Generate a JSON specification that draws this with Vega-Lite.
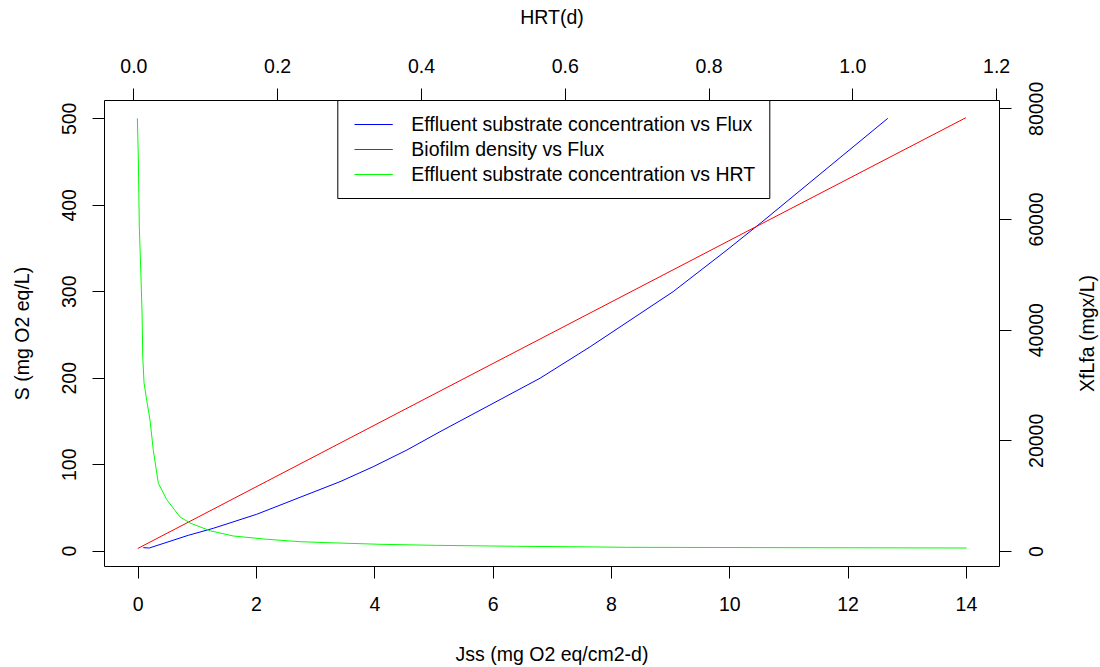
{
  "$schema": "https://vega.github.io/schema/vega-lite/v6.json",
  "width": 895,
  "height": 466,
  "autosize": {"type": "none"},
  "padding": {"left": 104, "top": 100, "right": 101, "bottom": 101},
  "background": "white",
  "config": {
    "font": "Liberation Sans",
    "view": {"stroke": "black", "strokeWidth": 1},
    "axis": {
      "grid": false,
      "domain": false,
      "tickColor": "black",
      "tickSize": 12,
      "tickWidth": 1,
      "labelColor": "black",
      "labelFontSize": 19.5,
      "labelFont": "Liberation Sans",
      "titleFont": "Liberation Sans",
      "titleFontSize": 19.5,
      "titleFontWeight": "normal",
      "titleColor": "black",
      "labelFlush": false,
      "labelOverlap": false
    },
    "legend": {
      "labelFont": "Liberation Sans"
    }
  },
  "datasets": {
    "fluxS": [
      {"series": "Effluent substrate concentration vs Flux", "Jss": 0.095, "S": 3.5},
      {"series": "Effluent substrate concentration vs Flux", "Jss": 0.196, "S": 3.1},
      {"series": "Effluent substrate concentration vs Flux", "Jss": 0.855, "S": 17.8},
      {"series": "Effluent substrate concentration vs Flux", "Jss": 1.278, "S": 25.9},
      {"series": "Effluent substrate concentration vs Flux", "Jss": 2.011, "S": 42.1},
      {"series": "Effluent substrate concentration vs Flux", "Jss": 2.743, "S": 61.7},
      {"series": "Effluent substrate concentration vs Flux", "Jss": 3.42, "S": 79.8},
      {"series": "Effluent substrate concentration vs Flux", "Jss": 3.98, "S": 97.1},
      {"series": "Effluent substrate concentration vs Flux", "Jss": 4.55, "S": 116.4},
      {"series": "Effluent substrate concentration vs Flux", "Jss": 5.11, "S": 137.6},
      {"series": "Effluent substrate concentration vs Flux", "Jss": 6.8, "S": 199.4},
      {"series": "Effluent substrate concentration vs Flux", "Jss": 7.65, "S": 235.9},
      {"series": "Effluent substrate concentration vs Flux", "Jss": 9.05, "S": 299.5},
      {"series": "Effluent substrate concentration vs Flux", "Jss": 9.96, "S": 347.7},
      {"series": "Effluent substrate concentration vs Flux", "Jss": 10.55, "S": 380},
      {"series": "Effluent substrate concentration vs Flux", "Jss": 12.68, "S": 500}
    ],
    "fluxX": [
      {"series": "Biofilm density vs Flux", "Jss": 0, "XfLfa": 450},
      {"series": "Biofilm density vs Flux", "Jss": 5.11, "XfLfa": 28900},
      {"series": "Biofilm density vs Flux", "Jss": 10.55, "XfLfa": 59150},
      {"series": "Biofilm density vs Flux", "Jss": 14, "XfLfa": 78300}
    ],
    "hrtS": [
      {"series": "Effluent substrate concentration vs HRT", "HRT": 0.0056, "S": 500},
      {"series": "Effluent substrate concentration vs HRT", "HRT": 0.007, "S": 452},
      {"series": "Effluent substrate concentration vs HRT", "HRT": 0.0083, "S": 375},
      {"series": "Effluent substrate concentration vs HRT", "HRT": 0.0103, "S": 325},
      {"series": "Effluent substrate concentration vs HRT", "HRT": 0.0121, "S": 276},
      {"series": "Effluent substrate concentration vs HRT", "HRT": 0.0131, "S": 224},
      {"series": "Effluent substrate concentration vs HRT", "HRT": 0.0149, "S": 194},
      {"series": "Effluent substrate concentration vs HRT", "HRT": 0.0186, "S": 174},
      {"series": "Effluent substrate concentration vs HRT", "HRT": 0.0232, "S": 151},
      {"series": "Effluent substrate concentration vs HRT", "HRT": 0.0278, "S": 116},
      {"series": "Effluent substrate concentration vs HRT", "HRT": 0.0348, "S": 78},
      {"series": "Effluent substrate concentration vs HRT", "HRT": 0.0465, "S": 59},
      {"series": "Effluent substrate concentration vs HRT", "HRT": 0.065, "S": 39},
      {"series": "Effluent substrate concentration vs HRT", "HRT": 0.0789, "S": 32},
      {"series": "Effluent substrate concentration vs HRT", "HRT": 0.107, "S": 23},
      {"series": "Effluent substrate concentration vs HRT", "HRT": 0.139, "S": 17},
      {"series": "Effluent substrate concentration vs HRT", "HRT": 0.1855, "S": 13.2},
      {"series": "Effluent substrate concentration vs HRT", "HRT": 0.232, "S": 10.4},
      {"series": "Effluent substrate concentration vs HRT", "HRT": 0.269, "S": 9.3},
      {"series": "Effluent substrate concentration vs HRT", "HRT": 0.343, "S": 7.4},
      {"series": "Effluent substrate concentration vs HRT", "HRT": 0.42, "S": 6.2},
      {"series": "Effluent substrate concentration vs HRT", "HRT": 0.533, "S": 5.1},
      {"series": "Effluent substrate concentration vs HRT", "HRT": 0.607, "S": 4.6},
      {"series": "Effluent substrate concentration vs HRT", "HRT": 0.686, "S": 3.9},
      {"series": "Effluent substrate concentration vs HRT", "HRT": 1.159, "S": 3.1}
    ]
  },
  "layer": [
    {
      "data": {"name": "fluxS"},
      "mark": {"type": "line", "strokeWidth": 1},
      "encoding": {
        "x": {
          "field": "Jss", "type": "quantitative",
          "scale": {"domain": [-0.57, 14.56], "nice": false, "zero": false},
          "axis": {
            "orient": "bottom", "values": [0, 2, 4, 6, 8, 10, 12, 14], "format": "d",
            "title": "Jss (mg O2 eq/cm2-d)", "labelPadding": 17.5,
            "titleX": 447.5, "titleY": 94, "titleAlign": "center", "titleBaseline": "alphabetic", "titleAngle": 0
          }
        },
        "y": {
          "field": "S", "type": "quantitative",
          "scale": {"domain": [-17.7, 521.2], "nice": false, "zero": false},
          "axis": {
            "orient": "left", "values": [0, 100, 200, 300, 400, 500], "format": "d",
            "title": "S (mg O2 eq/L)",
            "labelAngle": -90, "labelAlign": "center", "labelBaseline": "bottom", "labelPadding": 13,
            "titleX": -75.7, "titleY": 233, "titleAngle": -90, "titleAlign": "center", "titleBaseline": "alphabetic"
          }
        },
        "color": {
          "field": "series", "type": "nominal",
          "scale": {
            "domain": ["Effluent substrate concentration vs Flux", "Biofilm density vs Flux", "Effluent substrate concentration vs HRT"],
            "range": ["#0000FF", "#FF0000", "#00FF00"]
          },
          "legend": {
            "orient": "none", "legendX": 233.3, "legendY": 0, "title": null,
            "symbolType": "M-0.73,0H3.1", "symbolSize": 400, "symbolStrokeWidth": 1,
            "labelOffset": 39, "labelFontSize": 19.5, "labelColor": "black", "labelLimit": 0,
            "padding": 14, "rowPadding": 5,
            "strokeColor": "black", "fillColor": "white", "cornerRadius": 0
          }
        }
      }
    },
    {
      "data": {"name": "fluxX"},
      "mark": {"type": "line", "strokeWidth": 1},
      "encoding": {
        "x": {
          "field": "Jss", "type": "quantitative",
          "scale": {"domain": [-0.57, 14.56], "nice": false, "zero": false},
          "axis": null
        },
        "y": {
          "field": "XfLfa", "type": "quantitative",
          "scale": {"domain": [-2710, 81500], "nice": false, "zero": false},
          "axis": {
            "orient": "right", "values": [0, 20000, 40000, 60000, 80000], "format": "d",
            "title": "XfLfa (mgx/L)",
            "labelAngle": -90, "labelAlign": "center", "labelBaseline": "top", "labelPadding": 16,
            "titleX": 94.3, "titleY": 233, "titleAngle": -90, "titleAlign": "center", "titleBaseline": "alphabetic"
          }
        },
        "color": {
          "field": "series", "type": "nominal",
          "scale": {
            "domain": ["Effluent substrate concentration vs Flux", "Biofilm density vs Flux", "Effluent substrate concentration vs HRT"],
            "range": ["#0000FF", "#FF0000", "#00FF00"]
          },
          "legend": {
            "orient": "none", "legendX": 233.3, "legendY": 0, "title": null,
            "symbolType": "M-0.73,0H3.1", "symbolSize": 400, "symbolStrokeWidth": 1,
            "labelOffset": 39, "labelFontSize": 19.5, "labelColor": "black", "labelLimit": 0,
            "padding": 14, "rowPadding": 5,
            "strokeColor": "black", "fillColor": "white", "cornerRadius": 0
          }
        }
      }
    },
    {
      "data": {"name": "hrtS"},
      "mark": {"type": "line", "strokeWidth": 1},
      "encoding": {
        "x": {
          "field": "HRT", "type": "quantitative",
          "scale": {"domain": [-0.0408, 1.204], "nice": false, "zero": false},
          "axis": {
            "orient": "top", "values": [0, 0.2, 0.4, 0.6, 0.8, 1.0, 1.2], "format": ".1f",
            "title": "HRT(d)", "labelPadding": 12,
            "titleX": 447.5, "titleY": -76.7, "titleAlign": "center", "titleBaseline": "alphabetic", "titleAngle": 0
          }
        },
        "y": {
          "field": "S", "type": "quantitative",
          "scale": {"domain": [-17.7, 521.2], "nice": false, "zero": false},
          "axis": null
        },
        "color": {
          "field": "series", "type": "nominal",
          "scale": {
            "domain": ["Effluent substrate concentration vs Flux", "Biofilm density vs Flux", "Effluent substrate concentration vs HRT"],
            "range": ["#0000FF", "#FF0000", "#00FF00"]
          },
          "legend": {
            "orient": "none", "legendX": 233.3, "legendY": 0, "title": null,
            "symbolType": "M-0.73,0H3.1", "symbolSize": 400, "symbolStrokeWidth": 1,
            "labelOffset": 39, "labelFontSize": 19.5, "labelColor": "black", "labelLimit": 0,
            "padding": 14, "rowPadding": 5,
            "strokeColor": "black", "fillColor": "white", "cornerRadius": 0
          }
        }
      }
    }
  ],
  "resolve": {"scale": {"x": "independent", "y": "independent"}}
}
